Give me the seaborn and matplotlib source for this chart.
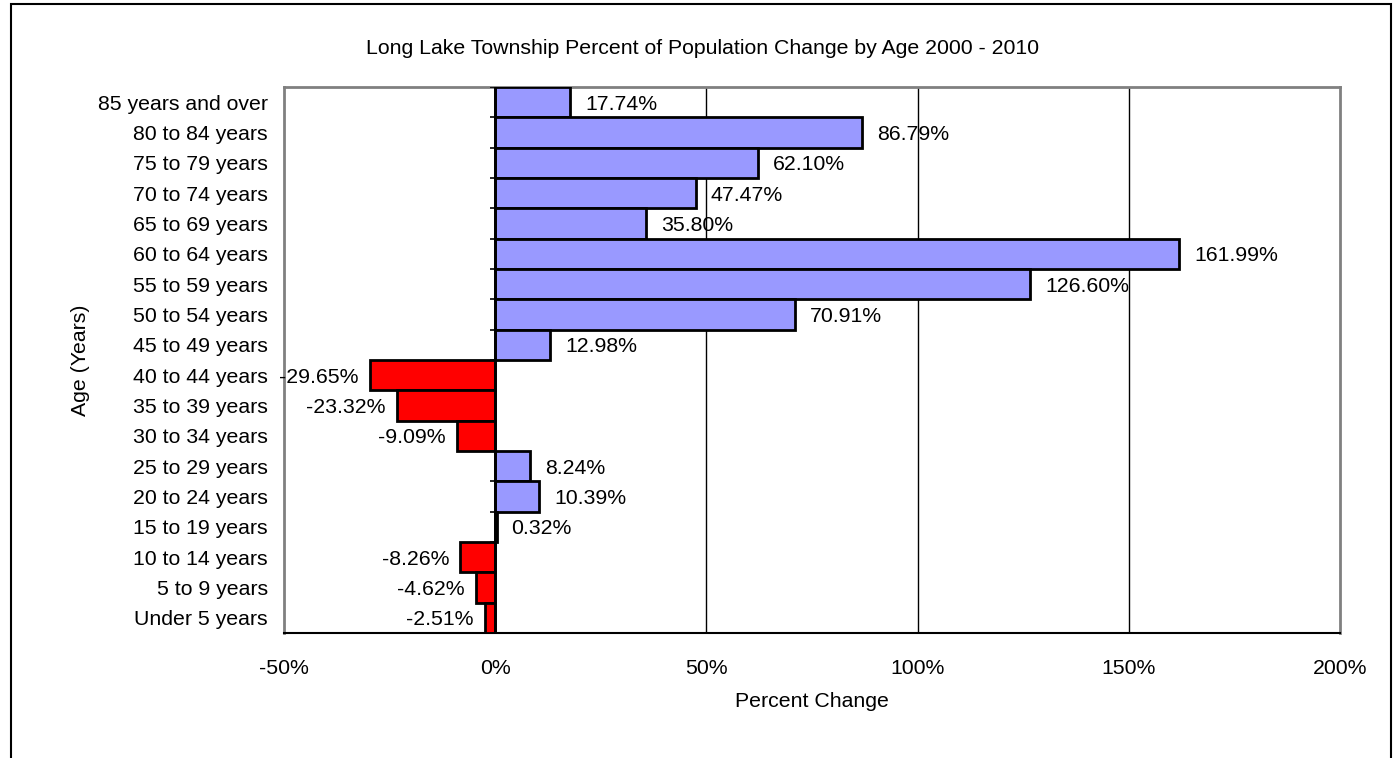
import matplotlib
matplotlib.use("Agg")
import matplotlib.pyplot as plt
import seaborn as sns
import pandas as pd
import numpy as np
from matplotlib.patches import Rectangle

categories = ["85 years and over", "80 to 84 years", "75 to 79 years", "70 to 74 years",
              "65 to 69 years", "60 to 64 years", "55 to 59 years", "50 to 54 years",
              "45 to 49 years", "40 to 44 years", "35 to 39 years", "30 to 34 years",
              "25 to 29 years", "20 to 24 years", "15 to 19 years", "10 to 14 years",
              "5 to 9 years", "Under 5 years"]
values = [17.74, 86.79, 62.10, 47.47, 35.80, 161.99, 126.60, 70.91, 12.98,
          -29.65, -23.32, -9.09, 8.24, 10.39, 0.32, -8.26, -4.62, -2.51]
xticks = [-50, 0, 50, 100, 150, 200]
title = "Long Lake Township Percent of Population Change by Age 2000 - 2010"

sns.set_style("white")
plt.rcParams['font.family'] = ['Liberation Sans', 'DejaVu Sans']
plt.rcParams['text.color'] = 'black'
plt.rcParams['axes.labelcolor'] = 'black'
plt.rcParams['xtick.color'] = 'black'
plt.rcParams['ytick.color'] = 'black'
FS = 15.3

df = pd.DataFrame({"age": categories, "pct": values})
df["sign"] = np.where(df["pct"] < 0, "neg", "pos")

fig = plt.figure(figsize=(13.95, 7.58), dpi=100)
ax = fig.add_axes([284/1395, 1-633/758, (1340-284)/1395, (633-87)/758])

sns.barplot(data=df, x="pct", y="age", hue="sign", order=categories,
            palette={"pos": "#9999FF", "neg": "#FF0000"}, dodge=False, saturation=1,
            width=1.0, edgecolor="black", linewidth=2, legend=False, ax=ax,
            orient="h", zorder=3)

ax.set_xlim(-50, 200)
ax.set_ylim(len(categories) - 0.5, -0.5)
ax.set_xticks(xticks)
ax.set_xticklabels([f"{t}%" for t in xticks], fontsize=FS)
ax.tick_params(axis="x", length=6, width=1.2, color="black", pad=13, direction="out")
ax.tick_params(axis="y", length=0, pad=11.5, labelsize=FS)
ax.set_xlabel("Percent Change", fontsize=FS, labelpad=10)
ax.set_ylabel("Age (Years)", fontsize=FS, labelpad=6)

for t in [50, 100, 150]:
    ax.axvline(t, color="black", lw=1, zorder=1)
ax.axvline(0, color="black", lw=2, zorder=4)
ax.hlines(np.arange(len(categories) + 1) - 0.5, -1.3, 0, color="black", lw=1.2, zorder=4)

for s in ["left", "top", "right"]:
    ax.spines[s].set_color("#808080")
    ax.spines[s].set_linewidth(2)
ax.spines["bottom"].set_color("black")
ax.spines["bottom"].set_linewidth(1.5)

px = 250 / 1056.0
for i, v in enumerate(values):
    if v >= 0:
        ax.text(v + 15 * px, i, f"{v:.2f}%", ha="left", va="center_baseline", fontsize=FS, zorder=5)
    else:
        ax.text(v - 11 * px, i, f"{v:.2f}%", ha="right", va="center_baseline", fontsize=FS, zorder=5)

fig.text(703/1395, 1-48/758, title, ha="center", va="center", fontsize=FS)

fig.patches.append(Rectangle((11/1395, -0.1), (1391-11)/1395, 1.1 - 4/758,
                             transform=fig.transFigure, fill=False, edgecolor="black",
                             lw=1.5, clip_on=False))

fig.savefig("out.png", dpi=100)
